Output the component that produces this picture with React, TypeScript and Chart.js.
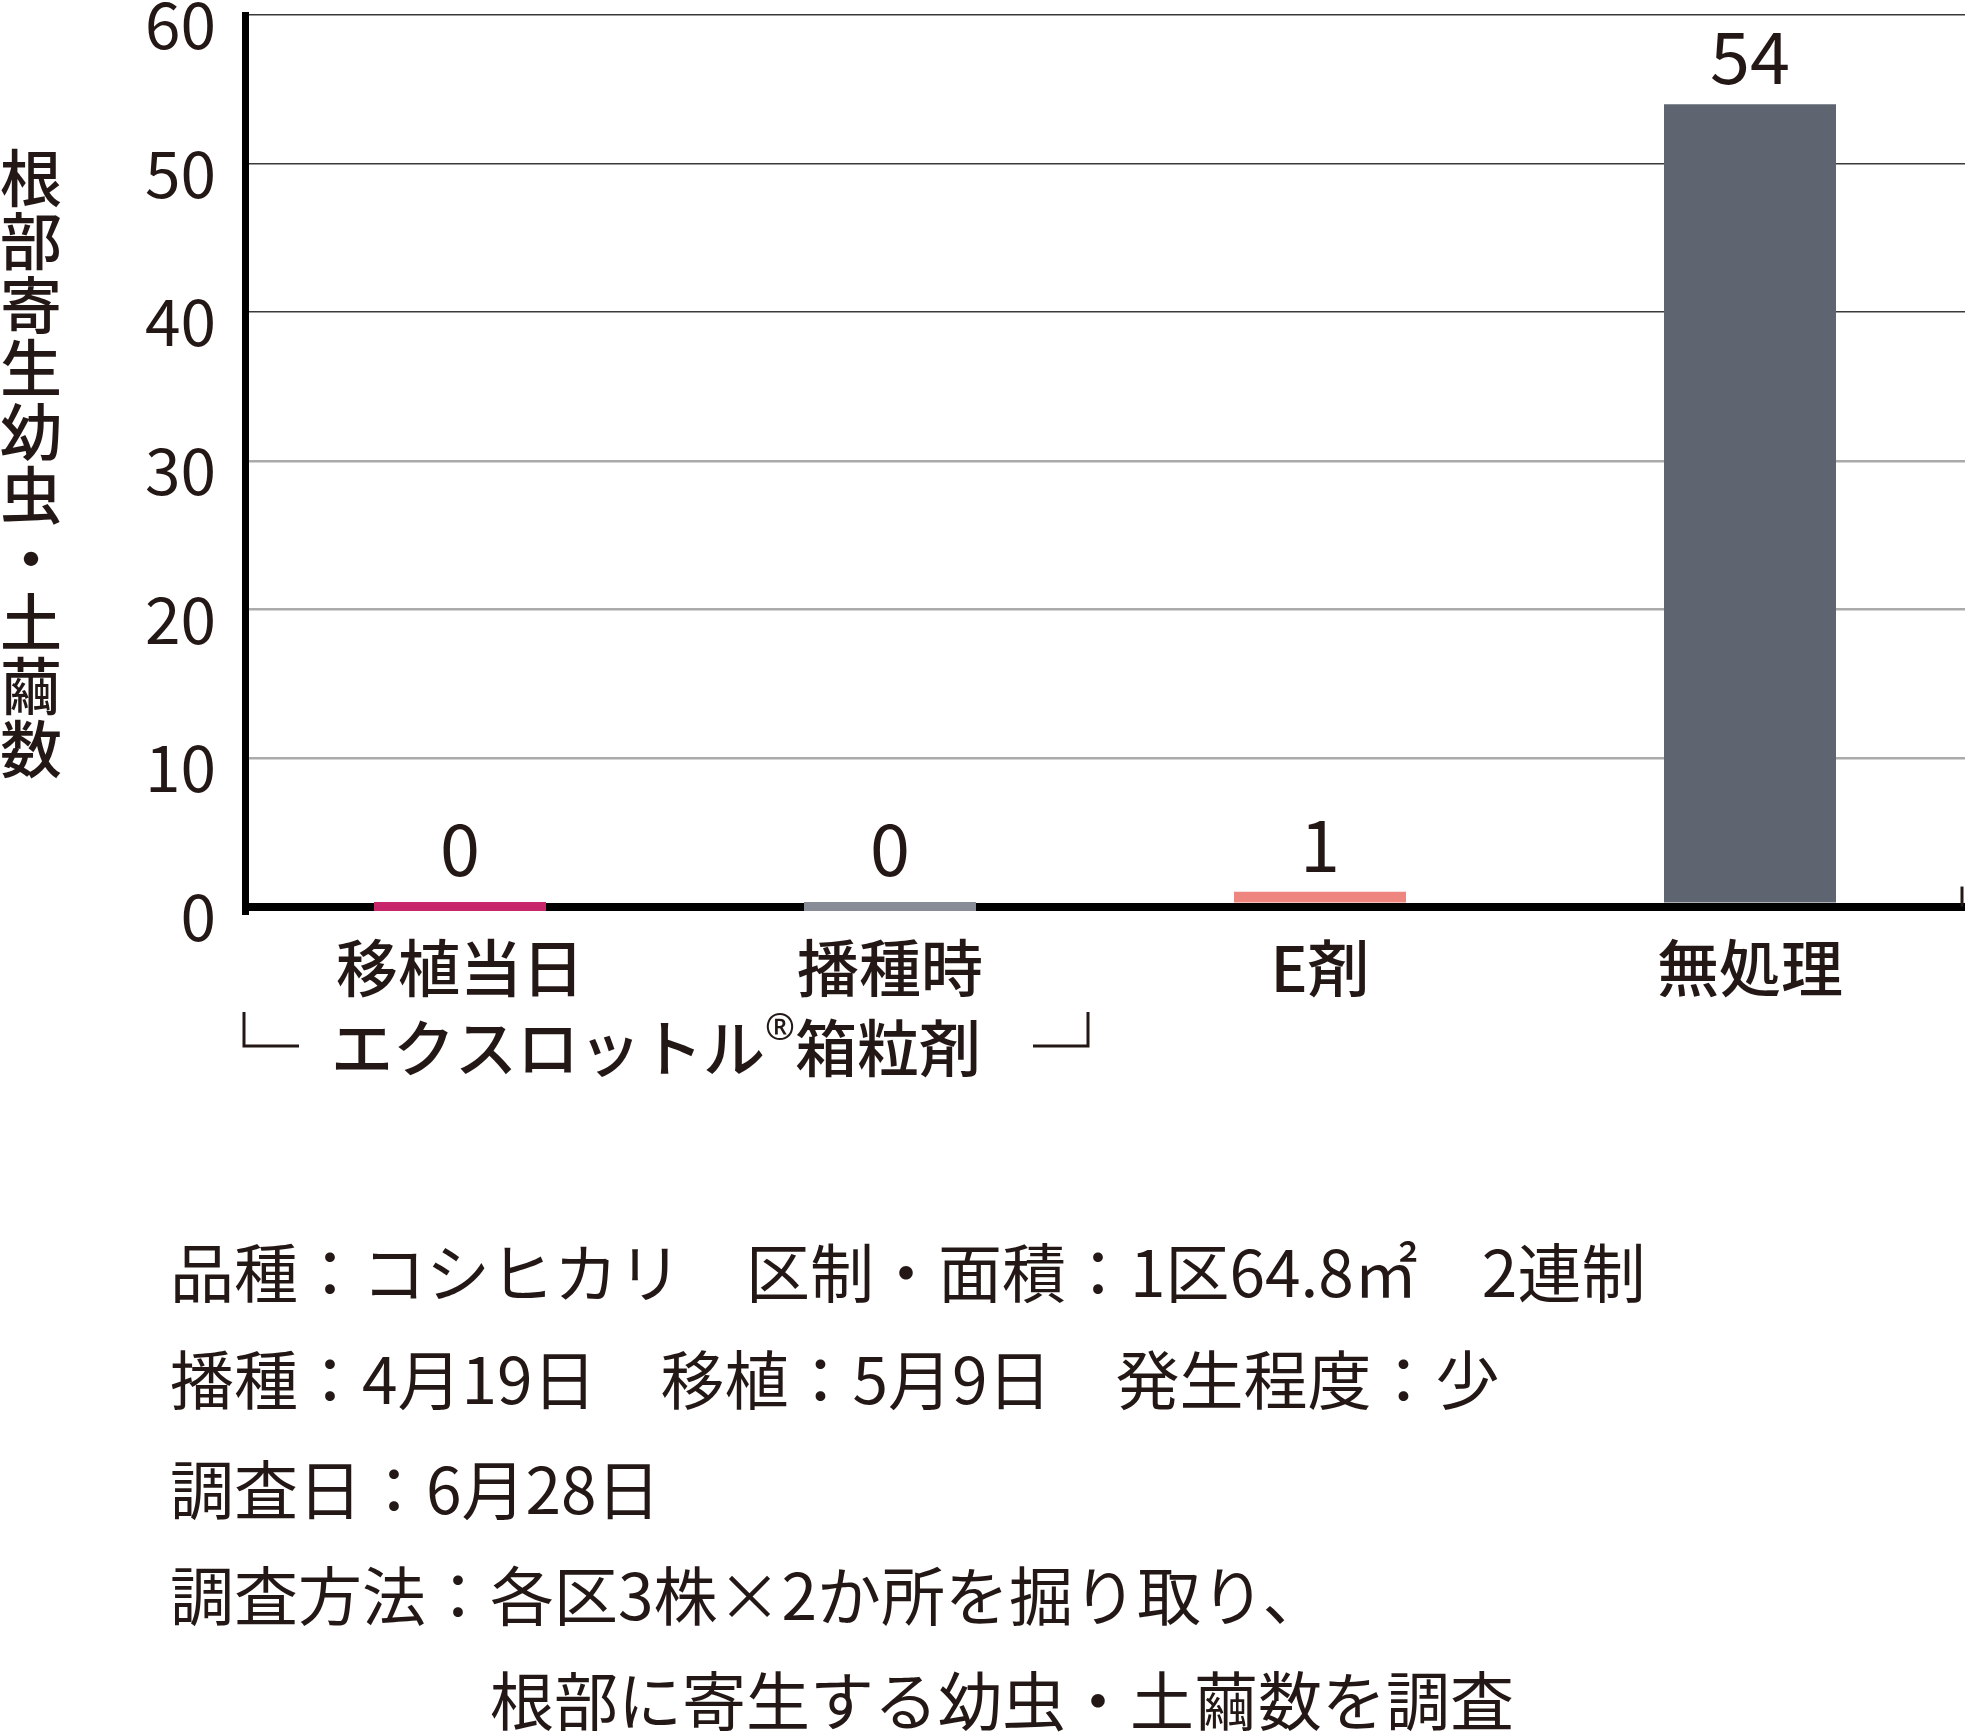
import React, { useEffect, useRef } from "react";
import { Chart, registerables } from "chart.js";

Chart.register(...registerables);

const categories = ["移植当日", "播種時", "E剤", "無処理"];
const counts = [0, 0, 1, 54];
const barColors = ["#c8266b", "#878c96", "#ef857f", "#5e6470"];
const yTicks = [0, 10, 20, 30, 40, 50, 60];
const yTitle = "根部寄生幼虫・土繭数";
const groupLabel = ["エクスロットル", "®", "箱粒剤"];
const notes = [
  "品種：コシヒカリ　区制・面積：1区64.8㎡　2連制",
  "播種：4月19日　移植：5月9日　発生程度：少",
  "調査日：6月28日",
  "調査方法：各区3株×2か所を掘り取り、",
  "根部に寄生する幼虫・土繭数を調査",
];

const FONT = '"Noto Sans CJK JP", "Noto Sans", sans-serif';
const INK = "#231815";

const extras = {
  id: "extras",
  afterDatasetsDraw(chart: any) {
    const { ctx, chartArea, scales } = chart;
    const meta = chart.getDatasetMeta(0);
    ctx.save();
    ctx.fillStyle = INK;
    ctx.strokeStyle = INK;

    // value labels above bars
    ctx.textAlign = "center";
    ctx.textBaseline = "alphabetic";
    ctx.font = `72px ${FONT}`;
    meta.data.forEach((bar: any, i: number) => {
      const p = bar.getProps(["x", "y", "base"], true);
      const top = Math.min(p.y, p.base);
      ctx.fillText(String(counts[i]), p.x, Math.min(top - 20, p.base - 26));
    });

    // vertical y-axis title, one character per row
    ctx.font = `500 62px ${FONT}`;
    ctx.textBaseline = "middle";
    Array.from(yTitle).forEach((ch, i) => {
      ctx.fillText(ch, 31, 178 + i * 63.5);
    });

    // small tick at the right end of the baseline
    const zeroY = scales.y.getPixelForValue(0);
    ctx.lineWidth = 3;
    ctx.beginPath();
    ctx.moveTo(chartArea.right - 3, zeroY - 20);
    ctx.lineTo(chartArea.right - 3, zeroY);
    ctx.stroke();

    // bracket under the first two categories
    ctx.beginPath();
    ctx.moveTo(244, 1012);
    ctx.lineTo(244, 1046);
    ctx.lineTo(299, 1046);
    ctx.moveTo(1033, 1046);
    ctx.lineTo(1088, 1046);
    ctx.lineTo(1088, 1012);
    ctx.stroke();

    const big = `500 62px ${FONT}`;
    const small = `36px "Noto Sans", "DejaVu Sans", sans-serif`;
    ctx.font = big;
    const w0 = ctx.measureText(groupLabel[0]).width;
    const w2 = ctx.measureText(groupLabel[2]).width;
    ctx.font = small;
    const w1 = ctx.measureText(groupLabel[1]).width;
    let gx = 656 - (w0 + w1 + w2) / 2;
    ctx.textAlign = "left";
    ctx.textBaseline = "middle";
    ctx.font = big;
    ctx.fillText(groupLabel[0], gx, 1048);
    gx += w0;
    ctx.font = small;
    ctx.fillText(groupLabel[1], gx, 1030);
    gx += w1;
    ctx.font = big;
    ctx.fillText(groupLabel[2], gx, 1048);

    // notes
    ctx.font = `64px ${FONT}`;
    const noteY = [1273, 1380, 1490, 1596, 1701];
    const indent = ctx.measureText("調査方法：").width;
    notes.forEach((line, i) => {
      const x = i === notes.length - 1 ? 170 + indent : 170;
      ctx.fillText(line, x, noteY[i]);
    });

    ctx.restore();
  },
};

const App = () => {
  const canvasRef = useRef<HTMLCanvasElement>(null);

  useEffect(() => {
    const ctx = canvasRef.current?.getContext("2d");
    if (!ctx) return;

    const chart = new Chart(ctx, {
      type: "bar",
      data: {
        labels: categories,
        datasets: [
          {
            data: counts,
            backgroundColor: barColors,
            borderWidth: 0,
            barPercentage: 0.4,
            categoryPercentage: 1,
            minBarLength: 9,
          },
        ],
      },
      options: {
        responsive: false,
        animation: false,
        layout: { padding: { left: 0, top: 15, right: 6, bottom: 0 } },
        plugins: {
          legend: { display: false },
          tooltip: { enabled: false },
        },
        scales: {
          x: {
            grid: { display: false, drawTicks: false },
            border: { display: false },
            ticks: {
              color: INK,
              padding: 20,
              maxRotation: 0,
              font: { family: FONT, size: 62, weight: "500" },
            },
            afterFit: (scale: any) => {
              scale.height = 1735 - 911;
              scale.paddingLeft = 0;
              scale.paddingRight = 0;
            },
          },
          y: {
            min: -0.3,
            max: 60,
            afterBuildTicks: (scale: any) => {
              scale.ticks = yTicks.map((v) => ({ value: v }));
            },
            grid: {
              drawTicks: false,
              color: (c: any) =>
                c.tick.value === 0 ? "#000" : c.tick.value >= 40 ? "#3a3a3a" : "#aaaaaa",
              lineWidth: (c: any) =>
                c.tick.value === 0 ? 8 : c.tick.value >= 40 ? 1.5 : 2.5,
            },
            border: { display: true, color: "#000", width: 7 },
            ticks: {
              color: INK,
              padding: 29,
              labelOffset: 10,
              font: { family: FONT, size: 64, lineHeight: 1 },
              callback: (v: any) => String(v),
            },
            afterFit: (scale: any) => {
              scale.width = 245;
              scale.paddingTop = 0;
              scale.paddingBottom = 0;
            },
          },
        },
      },
      plugins: [extras],
    });

    return () => {
      chart.destroy();
    };
  }, []);

  return (
    <div
      style={{
        position: "absolute",
        left: 0,
        top: 0,
        width: 1971,
        height: 1735,
        background: "#fff",
      }}
    >
      <canvas ref={canvasRef} width={1971} height={1735} style={{ width: 1971, height: 1735 }} />
    </div>
  );
};

export default App;
